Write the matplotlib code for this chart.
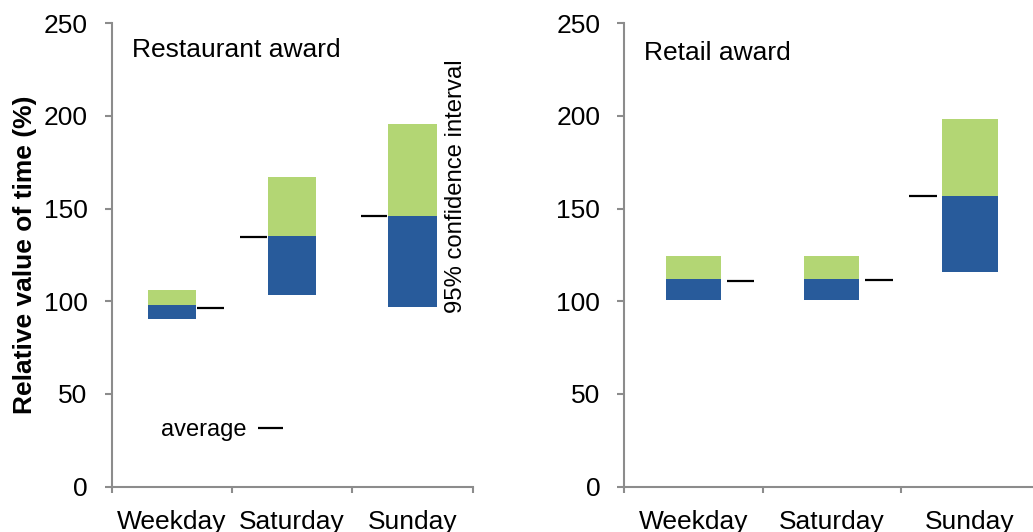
import numpy as np
import matplotlib
matplotlib.use("Agg")
import matplotlib.pyplot as plt

plt.rcParams['font.family'] = ['Liberation Sans', 'DejaVu Sans']

days = ['Weekday', 'Saturday', 'Sunday']

# restaurant award: 95% CI low / point / high, and average
rest_low = [90.2, 103.3, 96.9]
rest_mid = [97.8, 135.2, 146.3]
rest_high = [106.1, 167.3, 195.7]
rest_avg = [96.2, 134.8, 145.8]

# retail award
ret_low = [100.8, 100.8, 115.9]
ret_mid = [112.3, 112.3, 156.9]
ret_high = [124.2, 124.2, 198.4]
ret_avg = [110.8, 111.4, 156.7]

blue = '#285B9B'
green = '#B3D674'
spine_col = '#8C8C8C'

fig = plt.figure(figsize=(10.33, 5.32), dpi=100)
ax1 = fig.add_axes([0.1081, 0.0852, 0.3495, 0.871])
ax2 = fig.add_axes([0.6044, 0.0852, 0.4017, 0.871])


def draw_panel(ax, low, mid, high, avg, sides, off):
	x = np.arange(len(days))
	low, mid, high, avg = map(np.array, (low, mid, high, avg))
	ax.bar(x, mid - low, bottom=low, width=0.4, color=blue, edgecolor='none')
	ax.bar(x, high - mid, bottom=mid, width=0.4, color=green, edgecolor='none')
	for xi, a, s in zip(x, avg, sides):
		if s > 0:
			ax.hlines(a, xi + off[0], xi + off[1], color='black', lw=1.6)
		else:
			ax.hlines(a, xi - off[1], xi - off[0], color='black', lw=1.6)
	ax.set_xlim(-0.5, 2.5)
	ax.set_ylim(0, 250)
	ax.set_yticks(np.arange(0, 251, 50))
	ax.set_xticks(x)
	ax.set_xticklabels(days)
	ax.set_xticks([-0.5, 0.5, 1.5, 2.5], minor=True)
	ax.tick_params(axis='x', which='major', length=0, pad=16.5, labelsize=19)
	ax.tick_params(axis='x', which='minor', length=4.5, width=1.5, color=spine_col, direction='out')
	ax.tick_params(axis='y', length=5.3, width=1.5, color=spine_col, pad=12, labelsize=19)
	for s in ['top', 'right']:
		ax.spines[s].set_visible(False)
	for s in ['left', 'bottom']:
		ax.spines[s].set_color(spine_col)
		ax.spines[s].set_linewidth(1.5)
	ax.spines['bottom'].set_clip_on(False)


draw_panel(ax1, rest_low, rest_mid, rest_high, rest_avg, [1, -1, -1], (0.21, 0.43))
draw_panel(ax2, ret_low, ret_mid, ret_high, ret_avg, [1, 1, -1], (0.24, 0.44))

ax1.set_ylabel('Relative value of time (%)', fontsize=19, fontweight='bold', labelpad=5)
ax1.text(-0.33, 232, 'Restaurant award', fontsize=19, va='baseline')
ax2.text(-0.36, 230, 'Retail award', fontsize=19, va='baseline')
ax1.text(2.36, 162, '95% confidence interval', fontsize=17.2, rotation=90,
		ha='center', va='center')
ax1.text(-0.09, 27.3, 'average', fontsize=17, va='baseline')
ax1.hlines(31.4, 0.714, 0.921, color='black', lw=1.6)

fig.savefig('out.png', dpi=100)
